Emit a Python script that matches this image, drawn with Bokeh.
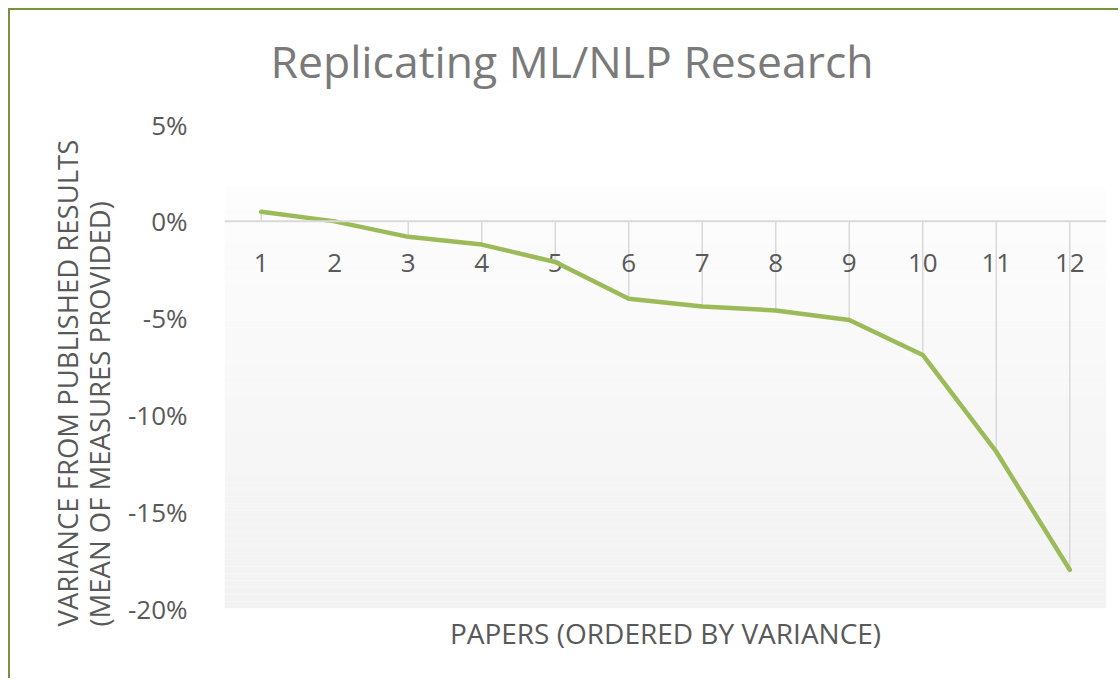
from bokeh.plotting import figure
from bokeh.models import Range1d, FixedTicker, PrintfTickFormatter, Title, Span, Label
from bokeh.core.properties import value
from bokeh.embed import file_html
from bokeh.resources import INLINE

# ---- data ----
papers = [1, 2, 3, 4, 5, 6, 7, 8, 9, 10, 11, 12]
paper_labels = ["1", "2", "3", "4", "5", "6", "7", "8", "9", "10", "11", "12"]
variance_pct = [0.5, 0.0, -0.8, -1.2, -2.1, -4.0, -4.4, -4.6, -5.1, -6.9, -11.9, -18.0]
y_ticks = [-20, -15, -10, -5, 0, 5]

chart_title = "Replicating ML/NLP Research"
x_title = "PAPERS (ORDERED BY VARIANCE)"
y_title = "VARIANCE FROM PUBLISHED RESULTS\n(MEAN OF MEASURES PROVIDED)"

FONT = "Open Sans"
TEXT_COLOR = "#595959"
LINE_COLOR = "#9bbb59"
GRID_COLOR = "#d9d9d9"

# the frame reaches up into the title area (white, no outline) so the chart
# title can be drawn inside it; only -20%..5% carry ticks
p = figure(width=1110, height=670, output_backend="svg", toolbar_location=None,
           x_range=Range1d(0.5, 12.5), y_range=Range1d(-20, 10.48),
           min_border_left=214, min_border_right=14, min_border_top=8, min_border_bottom=72)
p.styles = {"border-left": "2px solid #77933c", "border-top": "2px solid #77933c",
            "margin-left": "8px", "margin-top": "8px"}
p.outline_line_color = None
p.background_fill_color = "white"
p.border_fill_color = "white"
p.xgrid.visible = False
p.ygrid.visible = False

# plot-area gradient (white -> #f2f2f2), drawn as thin strips
grad_top = 1.76
n = 60
tops, bottoms, cols = [], [], []
for i in range(n):
    t = grad_top - (grad_top + 20) * i / n
    b = grad_top - (grad_top + 20) * (i + 1) / n
    f = (i + 0.5) / n
    c = int(round(253 - 11 * f))
    tops.append(t)
    bottoms.append(b)
    cols.append("#%02x%02x%02x" % (c, c, c))
p.quad(left=0.5, right=12.5, top=tops, bottom=bottoms, fill_color=cols, line_color=None)

# category axis at 0%
p.add_layout(Span(location=0, dimension="width", line_color=GRID_COLOR, line_width=2))

# drop lines
p.segment(x0=papers, y0=[0] * len(papers), x1=papers, y1=variance_pct,
          line_color=GRID_COLOR, line_width=1.5)

# category labels under the 0% line
p.text(x=papers, y=[0] * len(papers), text=paper_labels, y_offset=42,
       text_align="center", text_baseline="middle", text_color=TEXT_COLOR,
       text_font=value(FONT), text_font_size="26px")

# series line
p.line(papers, variance_pct, line_color=LINE_COLOR, line_width=4.5,
       line_join="round", line_cap="round")

# y axis
ya = p.yaxis[0]
ya.ticker = FixedTicker(ticks=y_ticks)
ya.formatter = PrintfTickFormatter(format="%d%%")
ya.axis_line_color = None
ya.major_tick_line_color = None
ya.minor_tick_line_color = None
ya.major_label_standoff = 31
ya.major_label_text_font = FONT
ya.major_label_text_font_size = "26px"
ya.major_label_text_color = TEXT_COLOR

p.xaxis.visible = False

# y axis title (two lines), positioned along the -20%..5% span
p.add_layout(Title(text=y_title, align="left", offset=-18, text_font=FONT,
                   text_font_size="27.5px", text_font_style="normal",
                   text_color=TEXT_COLOR, text_line_height=0.87, standoff=12), "left")

p.add_layout(Title(text=x_title, align="center", text_font=FONT, text_font_size="28px",
                   text_font_style="normal", text_color=TEXT_COLOR, standoff=7), "below")

# chart title, centred over the whole chart
p.add_layout(Label(x=5.228, y=8.32, text=chart_title, text_align="center",
                   text_baseline="middle", text_font=FONT, text_font_size="44.5px",
                   text_color="#7a7a7a"))

open("out.html", "w").write(file_html(p, INLINE))
